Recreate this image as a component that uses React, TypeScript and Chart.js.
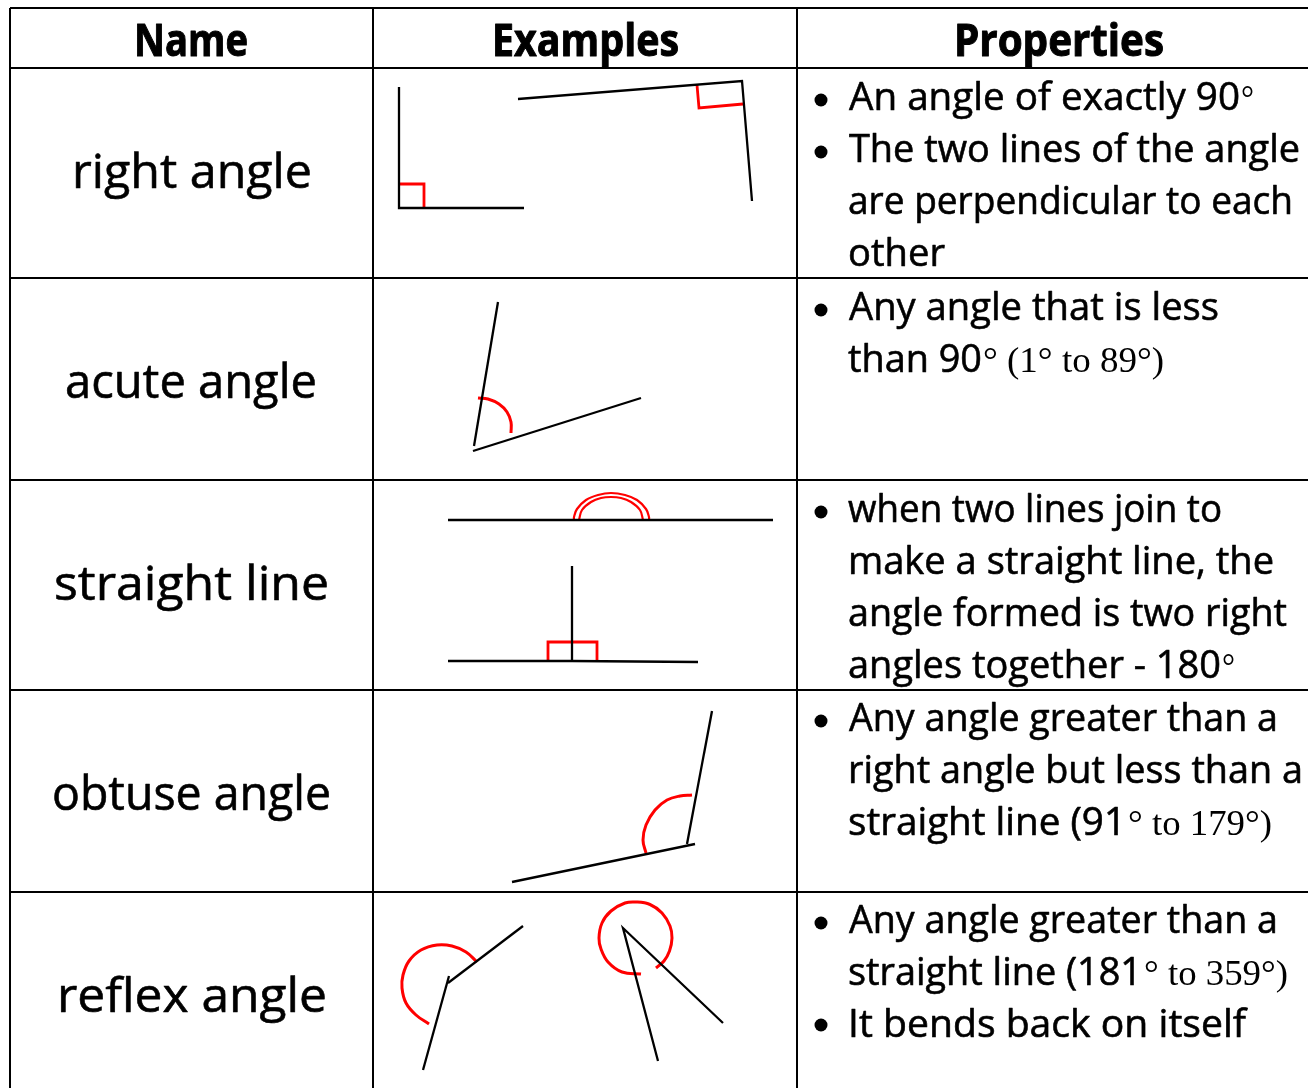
import React, { useEffect, useRef } from "react";
import { Chart, registerables } from "chart.js";

Chart.register(...registerables);

type P = [number, number];

const headers = ["Name", "Examples", "Properties"];
const angleNames = ["right angle", "acute angle", "straight line", "obtuse angle", "reflex angle"];

const gridVerticalAt = [10, 373, 797];
const gridHorizontalAt = [8, 68, 278, 480, 690, 892];
const bulletPoints: P[] = [[821, 100], [821, 152], [821, 310], [821, 512], [821, 721], [821, 923], [821, 1025]];

// black strokes of the example angles
const blackStrokes: P[][] = [
  [[399, 87], [399, 208], [524, 208]],
  [[518, 99], [742, 81], [752, 201]],
  [[498, 302], [474, 446]],
  [[473, 451], [641, 398]],
  [[448, 520], [773, 520]],
  [[448, 661], [572, 661], [698, 662]],
  [[572, 566], [572, 662]],
  [[712, 711], [687, 844]],
  [[695, 844], [512, 882]],
  [[523, 926], [448, 983]],
  [[449, 976], [423, 1070]],
  [[723, 1023], [623, 928], [658, 1061]],
];

// square right-angle marks
const redSquares: P[][] = [
  [[399, 184], [424, 184], [424, 208]],
  [[697, 85], [699, 108], [743, 104]],
  [[548, 661], [548, 642], [597, 642], [597, 661]],
];

// curved angle marks
const redArcs: P[][] = [
  [[478, 398], [488, 399], [499, 404], [507, 412], [511, 422], [511, 433]],
  [[692, 795], [680, 796], [667, 800], [655, 810], [646, 825], [643, 840], [646, 853]],
  [[477, 962], [466, 952], [452, 946], [437, 945], [421, 950], [409, 961], [403, 975], [402, 988], [406, 1003], [416, 1015], [429, 1024]],
  [[641, 974], [622, 972], [608, 962], [601, 949], [599, 938], [602, 923], [611, 911], [625, 903], [636, 902], [650, 904.5], [662, 913], [670, 926], [672, 938], [669.5, 951], [664, 961], [656, 968]],
];
const redDoubleArcs: P[][] = [
  [[574, 520], [574, 517], [577, 509], [586, 500], [598, 495], [611, 493], [625, 495], [637, 500], [646, 509], [649, 517], [649, 520]],
  [[579, 520], [582, 510], [591, 502], [601, 498], [611, 497], [621, 498], [631, 502], [640, 510], [643, 520]],
];

const HAND = "'Open Sans'";
const SERIF = "'Liberation Serif'";
const headerFont = `bold 44px ${HAND}`;
const nameFont = `48px ${HAND}`;
const bodyFont = `38px ${HAND}`;
const serifFont = `36px ${SERIF}`;

// text, left, right, baseline, font
type T = [string, number, number, number, string];
const textRuns: T[] = [
  [headers[0], 134, 248, 56, headerFont],
  [headers[1], 492, 679, 56, headerFont],
  [headers[2], 954, 1164, 56, headerFont],
  [angleNames[0], 72, 312, 188, nameFont],
  [angleNames[1], 65, 317, 398, nameFont],
  [angleNames[2], 54, 329, 600, nameFont],
  [angleNames[3], 52, 331, 810, nameFont],
  [angleNames[4], 57, 327, 1012, nameFont],
  ["An angle of exactly 90", 849, 1240, 110, bodyFont],
  ["°", 1241, 1254, 110, serifFont],
  ["The two lines of the angle", 849, 1300, 162, bodyFont],
  ["are perpendicular to each", 848, 1293, 214, bodyFont],
  ["other", 848, 945, 266, bodyFont],
  ["Any angle that is less", 849, 1219, 320, bodyFont],
  ["than 90", 848, 982, 372, bodyFont],
  ["° (1° to 89°)", 983, 1164, 372, serifFont],
  ["when two lines join to", 848, 1222, 522, bodyFont],
  ["make a straight line, the", 848, 1274, 574, bodyFont],
  ["angle formed is two right", 848, 1287, 626, bodyFont],
  ["angles together - 180", 848, 1221, 678, bodyFont],
  ["°", 1222, 1235, 678, serifFont],
  ["Any angle greater than a", 849, 1278, 731, bodyFont],
  ["right angle but less than a", 848, 1303, 783, bodyFont],
  ["straight line (91", 848, 1126, 835, bodyFont],
  ["° to 179°)", 1128, 1272, 835, serifFont],
  ["Any angle greater than a", 849, 1278, 933, bodyFont],
  ["straight line (181", 848, 1142, 985, bodyFont],
  ["° to 359°)", 1144, 1288, 985, serifFont],
  ["It bends back on itself", 848, 1246, 1037, bodyFont],
];

const toXY = (pts: P[]) => pts.map(([x, y]) => ({ x, y }));

const textPlugin = {
  id: "tableText",
  afterDatasetsDraw(chart: any) {
    const { ctx, scales } = chart;
    ctx.save();
    ctx.fillStyle = "#000";
    ctx.strokeStyle = "#000";
    ctx.textAlign = "left";
    ctx.textBaseline = "alphabetic";
    for (const [text, left, right, base, font] of textRuns) {
      const x0 = scales.x.getPixelForValue(left);
      const x1 = scales.x.getPixelForValue(right);
      const y = scales.y.getPixelForValue(base);
      ctx.save();
      ctx.font = font;
      const w = ctx.measureText(text).width;
      ctx.translate(x0, y);
      ctx.scale((x1 - x0) / w, 1);
      ctx.fillText(text, 0, 0);
      if (font !== serifFont) {
        ctx.lineWidth = font === headerFont ? 1 : 0.6;
        ctx.lineJoin = "round";
        ctx.strokeText(text, 0, 0);
      }
      ctx.restore();
    }
    ctx.restore();
  },
};

export default function App() {
  const ref = useRef<HTMLCanvasElement>(null);
  useEffect(() => {
    if (!ref.current) return;
    const line = (pts: P[], color: string, width: number, tension = 0) => ({
      data: toXY(pts),
      showLine: true,
      borderColor: color,
      backgroundColor: color,
      borderWidth: width,
      pointRadius: 0,
      tension,
      clip: false as const,
    });
    const chart = new Chart(ref.current, {
      type: "scatter",
      data: {
        datasets: [
          ...gridVerticalAt.map((x) => line([[x, 8], [x, 1088]], "#000", 2)),
          ...gridHorizontalAt.map((y) => line([[10, y], [1308, y]], "#000", 2)),
          ...blackStrokes.map((s) => line(s, "#000", 2.3)),
          ...redSquares.map((s) => line(s, "#ff0000", 2.8)),
          ...redArcs.map((s) => line(s, "#ff0000", 3, 0.4)),
          ...redDoubleArcs.map((s) => line(s, "#ff0000", 2.2, 0.4)),
          {
            data: toXY(bulletPoints),
            showLine: false,
            pointRadius: 6.5,
            pointBackgroundColor: "#000",
            pointBorderWidth: 0,
          },
        ],
      },
      options: {
        animation: false,
        responsive: false,
        layout: { padding: 0, autoPadding: false },
        plugins: { legend: { display: false }, tooltip: { enabled: false }, title: { display: false } },
        scales: {
          x: { type: "linear", min: 0, max: 1308, display: false },
          y: { type: "linear", min: 0, max: 1088, reverse: true, display: false },
        },
      },
      plugins: [textPlugin],
    } as any);
    return () => chart.destroy();
  }, []);
  return (
    <div style={{ position: "absolute", left: 0, top: 0, width: 1308, height: 1088, background: "#fff" }}>
      <canvas ref={ref} width={1308} height={1088} style={{ display: "block" }} />
    </div>
  );
}
